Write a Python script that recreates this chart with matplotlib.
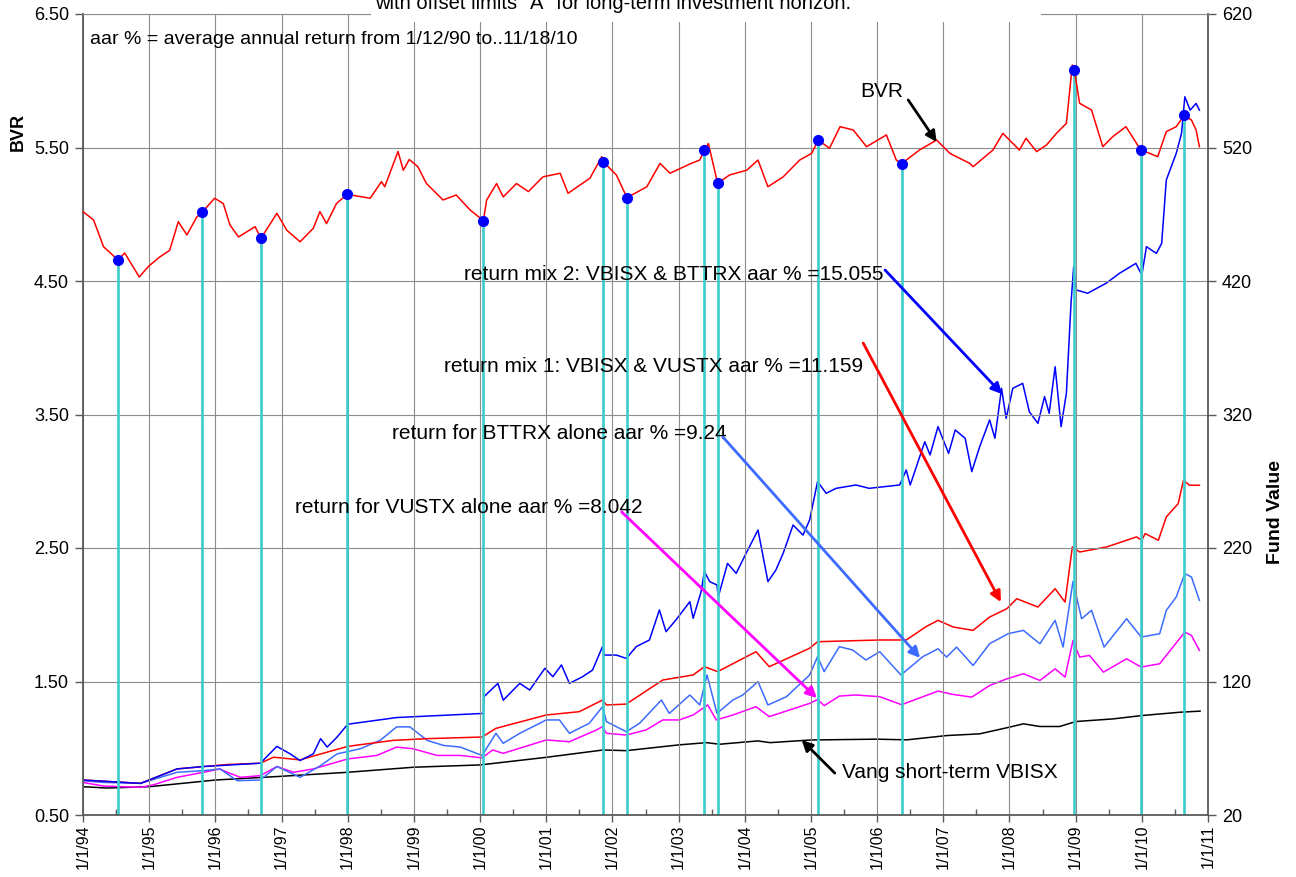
import matplotlib
matplotlib.use("Agg")
import matplotlib.pyplot as plt
from matplotlib.patches import Rectangle

RED = "#ff0000"
BLUE = "#0000ff"
LBLUE = "#3d6bff"
MAGENTA = "#ff00ff"
CYAN = "#3ccccc"
GRID = "#8c8c8c"
AXIS = "#5a5a5a"

plt.rcParams.update({
    "font.family": ["Liberation Sans", "DejaVu Sans"],
    "axes.edgecolor": AXIS,
    "xtick.color": AXIS, "ytick.color": AXIS,
    "xtick.labelcolor": "black", "ytick.labelcolor": "black",
})

# ---- data (decimal year, value) ----
bvr_t = [1994.0, 1994.16, 1994.31, 1994.53, 1994.63, 1994.85, 1994.99, 1995.16, 1995.31, 1995.44,
         1995.57, 1995.72, 1995.80, 1995.99, 1996.12, 1996.22, 1996.35, 1996.60, 1996.69, 1996.93,
         1997.08, 1997.28, 1997.48, 1997.58, 1997.68, 1997.83, 1997.99, 1998.34, 1998.51, 1998.56,
         1998.76, 1998.84, 1998.93, 1999.06, 1999.19, 1999.44, 1999.64, 1999.85, 2000.05, 2000.10,
         2000.25, 2000.35, 2000.55, 2000.73, 2000.95, 2001.21, 2001.33, 2001.66, 2001.84, 2001.86,
         2002.06, 2002.22, 2002.52, 2002.72, 2002.87, 2003.19, 2003.32, 2003.39, 2003.45, 2003.59,
         2003.77, 2004.03, 2004.20, 2004.35, 2004.58, 2004.83, 2005.01, 2005.11, 2005.28, 2005.44,
         2005.64, 2005.84, 2006.14, 2006.29, 2006.37, 2006.64, 2006.90, 2007.10, 2007.40, 2007.45,
         2007.75, 2007.90, 2008.15, 2008.25, 2008.41, 2008.56, 2008.71, 2008.86, 2008.95, 2008.98,
         2009.06, 2009.24, 2009.41, 2009.56, 2009.76, 2009.98, 2010.24, 2010.37, 2010.52, 2010.64,
         2010.75, 2010.82, 2010.87]
bvr_v = [5.02, 4.957, 4.757, 4.657, 4.71, 4.53, 4.61, 4.68, 4.73, 4.944,
         4.845, 4.98, 5.015, 5.12, 5.08, 4.92, 4.83, 4.907, 4.82, 5.007,
         4.88, 4.794, 4.895, 5.02, 4.93, 5.08, 5.149, 5.12, 5.244, 5.206,
         5.47, 5.33, 5.41, 5.356, 5.23, 5.107, 5.144, 5.032, 4.952, 5.107,
         5.23, 5.13, 5.23, 5.17, 5.28, 5.307, 5.157, 5.27, 5.431, 5.394,
         5.294, 5.124, 5.206, 5.381, 5.307, 5.381, 5.406, 5.479, 5.53, 5.232,
         5.294, 5.33, 5.406, 5.206, 5.28, 5.406, 5.456, 5.556, 5.494, 5.656,
         5.631, 5.506, 5.594, 5.406, 5.379, 5.481, 5.556, 5.456, 5.381, 5.356,
         5.481, 5.606, 5.481, 5.569, 5.469, 5.519, 5.606, 5.681, 6.118, 6.08,
         5.831, 5.781, 5.506, 5.581, 5.656, 5.484, 5.431, 5.619, 5.656, 5.741,
         5.706, 5.631, 5.506]

switch_t = [1994.53, 1995.80, 1996.69, 1997.99, 2000.05, 2001.86, 2002.22, 2003.39, 2003.59,
            2005.11, 2006.37, 2008.98, 2009.98, 2010.64]
switch_v = [4.657, 5.015, 4.82, 5.149, 4.952, 5.394, 5.124, 5.479, 5.232,
            5.556, 5.379, 6.08, 5.484, 5.741]

vbisx_t = [1994.0, 1994.36, 1995.0, 1996.0, 1997.0, 1998.0, 1999.0, 2000.0, 2001.0, 2001.86,
           2002.21, 2003.0, 2003.42, 2003.62, 2004.2, 2004.38, 2005.0, 2006.0, 2006.45, 2007.05,
           2007.55, 2008.0, 2008.21, 2008.46, 2008.76, 2009.0, 2009.57, 2010.0, 2010.58, 2010.88]
vbisx_v = [41.2, 40.2, 41.2, 46.2, 49.0, 52.0, 55.8, 57.5, 63.2, 68.7,
           68.2, 72.5, 74.2, 73.0, 75.5, 74.2, 76.2, 76.8, 76.3, 79.5,
           80.8, 85.8, 88.3, 86.3, 86.3, 90.0, 92.0, 94.5, 97.0, 97.8]

vustx_t = [1994.0, 1994.31, 1994.87, 1995.07, 1995.42, 1995.82, 1996.07, 1996.18, 1996.38, 1996.68,
           1996.93, 1997.18, 1997.48, 1998.0, 1998.44, 1998.74, 1998.99, 1999.35, 1999.7, 2000.03,
           2000.19, 2000.35, 2001.0, 2001.35, 2001.76, 2001.85, 2001.91, 2002.21, 2002.51, 2002.76,
           2003.01, 2003.22, 2003.44, 2003.57, 2003.82, 2004.17, 2004.37, 2004.98, 2005.1, 2005.2,
           2005.43, 2005.68, 2006.04, 2006.37, 2006.47, 2006.92, 2007.15, 2007.43, 2007.7, 2007.96,
           2008.21, 2008.46, 2008.69, 2008.84, 2008.96, 2009.06, 2009.21, 2009.42, 2009.77, 2009.99,
           2010.27, 2010.47, 2010.65, 2010.75, 2010.87]
vustx_v = [44.4, 41.7, 40.7, 42.7, 48.2, 52.0, 54.5, 52.0, 48.2, 49.5,
           56.3, 52.0, 54.5, 62.0, 64.6, 70.9, 69.6, 64.6, 64.6, 62.8,
           68.7, 66.2, 76.2, 74.9, 83.7, 86.2, 81.2, 79.9, 83.7, 91.2,
           91.2, 94.9, 102.4, 91.2, 94.9, 101.1, 93.7, 103.6, 106.5, 101.9,
           109.1, 109.9, 108.6, 102.6, 104.5, 112.8, 110.3, 108.3, 117.0, 122.0,
           125.8, 120.8, 129.5, 123.3, 150.8, 138.3, 139.5, 127.0, 137.0, 130.8,
           133.3, 145.8, 157.0, 154.5, 143.3]

bttrx_t = [1994.0, 1994.31, 1994.87, 1995.42, 1995.82, 1996.07, 1996.33, 1996.68, 1996.93, 1997.28,
           1997.59, 1997.84, 1998.19, 1998.49, 1998.74, 1998.94, 1999.2, 1999.45, 1999.7, 2000.03,
           2000.24, 2000.35, 2000.6, 2001.0, 2001.2, 2001.35, 2001.65, 2001.85, 2001.91, 2002.21,
           2002.41, 2002.74, 2002.86, 2003.17, 2003.32, 2003.43, 2003.58, 2003.82, 2003.97, 2004.2,
           2004.35, 2004.63, 2004.98, 2005.1, 2005.2, 2005.43, 2005.63, 2005.83, 2006.04, 2006.36,
           2006.69, 2006.92, 2007.05, 2007.2, 2007.45, 2007.7, 2007.98, 2008.21, 2008.46, 2008.69,
           2008.81, 2008.96, 2009.09, 2009.24, 2009.43, 2009.77, 2009.99, 2010.27, 2010.37, 2010.52,
           2010.65, 2010.75, 2010.87]
bttrx_v = [45.7, 44.4, 43.7, 52.0, 53.2, 54.5, 45.7, 46.2, 56.3, 48.2,
           57.0, 65.8, 69.6, 75.9, 86.0, 86.0, 75.9, 72.1, 70.9, 64.6,
           81.2, 73.7, 81.2, 91.2, 91.2, 81.2, 88.7, 101.1, 89.9, 82.4,
           88.7, 106.1, 96.1, 109.9, 102.4, 124.9, 96.1, 106.1, 109.9, 119.9,
           102.4, 108.6, 124.9, 138.6, 127.4, 146.1, 143.6, 136.1, 142.3, 124.9,
           138.6, 144.5, 138.3, 145.8, 132.0, 148.3, 155.8, 158.3, 148.3, 165.8,
           145.8, 195.0, 167.0, 173.3, 145.8, 167.0, 153.3, 155.8, 173.3, 183.3,
           200.8, 198.3, 180.8]

mix1_t = [1994.0, 1994.87, 1995.42, 1995.82, 1996.18, 1996.68, 1996.88, 1997.28, 1997.69, 1998.0,
          1998.69, 1999.2, 2000.03, 2000.24, 2001.0, 2001.5, 2001.85, 2001.91, 2002.21, 2002.76,
          2003.22, 2003.39, 2003.59, 2004.17, 2004.37, 2004.98, 2005.1, 2006.04, 2006.44, 2006.74,
          2006.92, 2007.15, 2007.45, 2007.7, 2007.96, 2008.11, 2008.43, 2008.69, 2008.84, 2008.95,
          2009.06, 2009.47, 2009.92, 2010.0, 2010.05, 2010.25, 2010.37, 2010.55, 2010.63, 2010.72,
          2010.87]
mix1_v = [46.2, 43.7, 54.5, 56.3, 57.8, 58.8, 63.3, 61.3, 67.1, 71.4,
          75.9, 77.2, 78.4, 84.9, 94.9, 97.4, 106.1, 102.4, 103.1, 121.1,
          124.9, 131.1, 127.4, 142.3, 131.1, 144.9, 149.8, 151.1, 151.1, 161.1,
          165.8, 160.8, 158.3, 168.3, 174.5, 182.0, 175.8, 189.5, 179.5, 220.8,
          217.0, 220.8, 228.3, 225.8, 230.8, 225.8, 243.3, 253.3, 270.8, 267.0,
          267.0]

mix2_t = [1994.0, 1994.87, 1995.42, 1995.82, 1996.68, 1996.93, 1997.13, 1997.28, 1997.48, 1997.59,
          1997.69, 1997.84, 1998.0, 1998.74, 2000.05, 2000.06, 2000.27, 2000.35, 2000.6, 2000.75,
          2000.98, 2001.1, 2001.23, 2001.35, 2001.55, 2001.7, 2001.85, 2001.88, 2002.06, 2002.21,
          2002.36, 2002.56, 2002.71, 2002.81, 2002.96, 2003.17, 2003.22, 2003.34, 2003.39, 2003.47,
          2003.58, 2003.6, 2003.74, 2003.87, 2004.02, 2004.2, 2004.35, 2004.47, 2004.58, 2004.73,
          2004.88, 2004.98, 2005.1, 2005.23, 2005.38, 2005.68, 2005.88, 2006.34, 2006.44, 2006.5,
          2006.72, 2006.8, 2006.92, 2007.08, 2007.18, 2007.33, 2007.43, 2007.55, 2007.7, 2007.78,
          2007.88, 2007.95, 2008.05, 2008.2, 2008.3, 2008.43, 2008.53, 2008.6, 2008.69, 2008.78,
          2008.86, 2008.93, 2008.97, 2009.01, 2009.18, 2009.46, 2009.66, 2009.91, 2010.0, 2010.07,
          2010.22, 2010.3, 2010.37, 2010.52, 2010.6, 2010.65, 2010.73, 2010.82, 2010.87]
mix2_v = [46.2, 43.7, 54.5, 56.3, 58.8, 71.4, 65.8, 60.8, 65.8, 77.2,
          70.9, 78.4, 88.0, 93.0, 96.1, 108.7, 118.6, 106.0, 118.6, 113.6,
          129.9, 123.6, 132.4, 118.6, 123.6, 128.6, 146.1, 139.8, 139.8, 137.3,
          146.1, 151.1, 173.6, 157.3, 166.1, 179.8, 167.3, 187.3, 202.3, 194.8,
          192.3, 183.5, 208.5, 201.0, 216.0, 233.5, 194.8, 203.5, 216.0, 237.2,
          229.7, 241.0, 269.7, 261.0, 264.7, 267.2, 264.7, 267.2, 278.4, 267.2,
          299.6, 289.7, 310.9, 290.9, 308.4, 302.2, 277.2, 295.9, 315.9, 302.2,
          339.6, 317.1, 339.6, 343.3, 322.1, 313.4, 333.4, 320.9, 355.8, 310.9,
          335.9, 403.3, 430.7, 413.3, 410.8, 418.3, 425.7, 433.2, 424.5, 445.7,
          440.7, 448.2, 495.7, 515.6, 530.6, 558.0, 548.0, 553.0, 548.0]

years = list(range(1994, 2012))
year_labels = [f"1/1/{y % 100:02d}" for y in years]
bvr_ticks = [0.5, 1.5, 2.5, 3.5, 4.5, 5.5, 6.5]
fund_ticks = [20, 120, 220, 320, 420, 520, 620]

W, H = 1296, 877
fig = plt.figure(figsize=(W / 100, H / 100), dpi=100, facecolor="white")
ax = fig.add_axes([83 / W, 1 - 815 / H, (1208 - 83) / W, (815 - 14) / H])
ax2 = ax.twinx()

# fund values on the right axis
ax2.plot(vbisx_t, vbisx_v, color="black", lw=1.1)
ax2.plot(vustx_t, vustx_v, color=MAGENTA, lw=1.1)
ax2.plot(bttrx_t, bttrx_v, color=LBLUE, lw=1.1)
ax2.plot(mix1_t, mix1_v, color=RED, lw=1.1)
ax2.plot(mix2_t, mix2_v, color=BLUE, lw=1.1)
ax2.set_ylim(20, 620)
ax2.set_yticks(fund_ticks)
ax2.tick_params(axis="y", direction="out", length=6, width=1, labelsize=13, pad=4)

# BVR axis drawn on top
ax.set_zorder(ax2.get_zorder() + 1)
ax.patch.set_visible(False)
ax.vlines(switch_t, 0.5, switch_v, color=CYAN, lw=1.9, zorder=2)
ax.plot(bvr_t, bvr_v, color=RED, lw=1.1, zorder=3)
ax.plot(switch_t, switch_v, "o", color=BLUE, ms=7, zorder=4)

ax.set_xlim(1994, 2011)
ax.set_ylim(0.5, 6.5)
ax.set_yticks(bvr_ticks)
ax.set_yticklabels([f"{v:.2f}" for v in bvr_ticks])
ax.set_xticks(years)
ax.set_xticklabels(year_labels, rotation=90, fontsize=11.5)
ax.set_xticks([y + 0.5 for y in years[:-1]], minor=True)
ax.tick_params(axis="x", which="major", direction="out", length=5, width=1, pad=2)
ax.tick_params(axis="x", which="minor", direction="in", length=4, width=1)
ax.tick_params(axis="y", direction="out", length=6, width=1, labelsize=13, pad=4)
ax.grid(True, which="major", color=GRID, lw=0.8, zorder=0)
for s in ("left", "right", "bottom"):
    ax.spines[s].set_color(AXIS)
    ax.spines[s].set_linewidth(1.3)
ax.spines["top"].set_color(GRID)
ax.spines["top"].set_linewidth(0.8)
for s in ax2.spines.values():
    s.set_visible(False)

# annotations (placed in fund-value coordinates)
tr = ax2.transData
ann = dict(fontsize=15, color="black", transform=tr, zorder=6, va="center")
arr = lambda c: dict(arrowstyle="-|>", color=c, lw=2, mutation_scale=16, shrinkA=0, shrinkB=0)

ax.text(2006.09, 424.5, "return mix 2: VBISX & BTTRX aar % =15.055", ha="right", **ann)
ax.annotate("", xy=(2007.89, 335.3), xytext=(2006.12, 428.2), xycoords=tr, textcoords=tr,
            arrowprops=arr(BLUE), zorder=6)
ax.text(2005.79, 356.3, "return mix 1: VBISX & VUSTX aar % =11.159", ha="right", **ann)
ax.annotate("", xy=(2007.87, 179.5), xytext=(2005.79, 373.5), xycoords=tr, textcoords=tr,
            arrowprops=arr(RED), zorder=6)
ax.text(2003.73, 306.1, "return for BTTRX alone aar % =9.24", ha="right", **ann)
ax.annotate("", xy=(2006.65, 137.6), xytext=(2003.67, 303.1), xycoords=tr, textcoords=tr,
            arrowprops=arr(LBLUE), zorder=6)
ax.text(2002.46, 250.7, "return for VUSTX alone aar % =8.042", ha="right", **ann)
ax.annotate("", xy=(2005.09, 107.6), xytext=(2002.14, 247.0), xycoords=tr, textcoords=tr,
            arrowprops=arr(MAGENTA), zorder=6)
ax.text(2005.47, 52.2, "Vang short-term VBISX", ha="left", **ann)
ax.annotate("", xy=(2004.86, 76.2), xytext=(2005.36, 51.4), xycoords=tr, textcoords=tr,
            arrowprops=arr("black"), zorder=6)
ax.text(2006.07, 561.6, "BVR", ha="center", **ann)
ax.annotate("", xy=(2006.90, 524.1), xytext=(2006.47, 555.6), xycoords=tr, textcoords=tr,
            arrowprops=arr("black"), zorder=6)

# axis titles
fig.text(18 / W, 1 - 132 / H, "BVR", rotation=90, fontsize=13, fontweight="bold",
         ha="center", va="center")
fig.text(1275 / W, 1 - 512 / H, "Fund Value", rotation=90, fontsize=14, fontweight="bold",
         ha="center", va="center")

fig.text(90 / W, 1 - 40 / H, "aar % = average annual return from 1/12/90 to..11/18/10",
         fontsize=14, ha="left", va="center")

# chart title (its first line falls above the image)
fig.patches.append(Rectangle((371 / W, 1 - 22 / H), (1041 - 371) / W, 22 / H,
                             transform=fig.transFigure, facecolor="white", edgecolor="none",
                             zorder=5))
fig.text(375 / W, 1 - 9 / H, 'with offset limits "A" for long-term investment horizon.',
         fontsize=14.5, ha="left", va="baseline", zorder=6)

fig.savefig("out.png", dpi=100, facecolor="white")
